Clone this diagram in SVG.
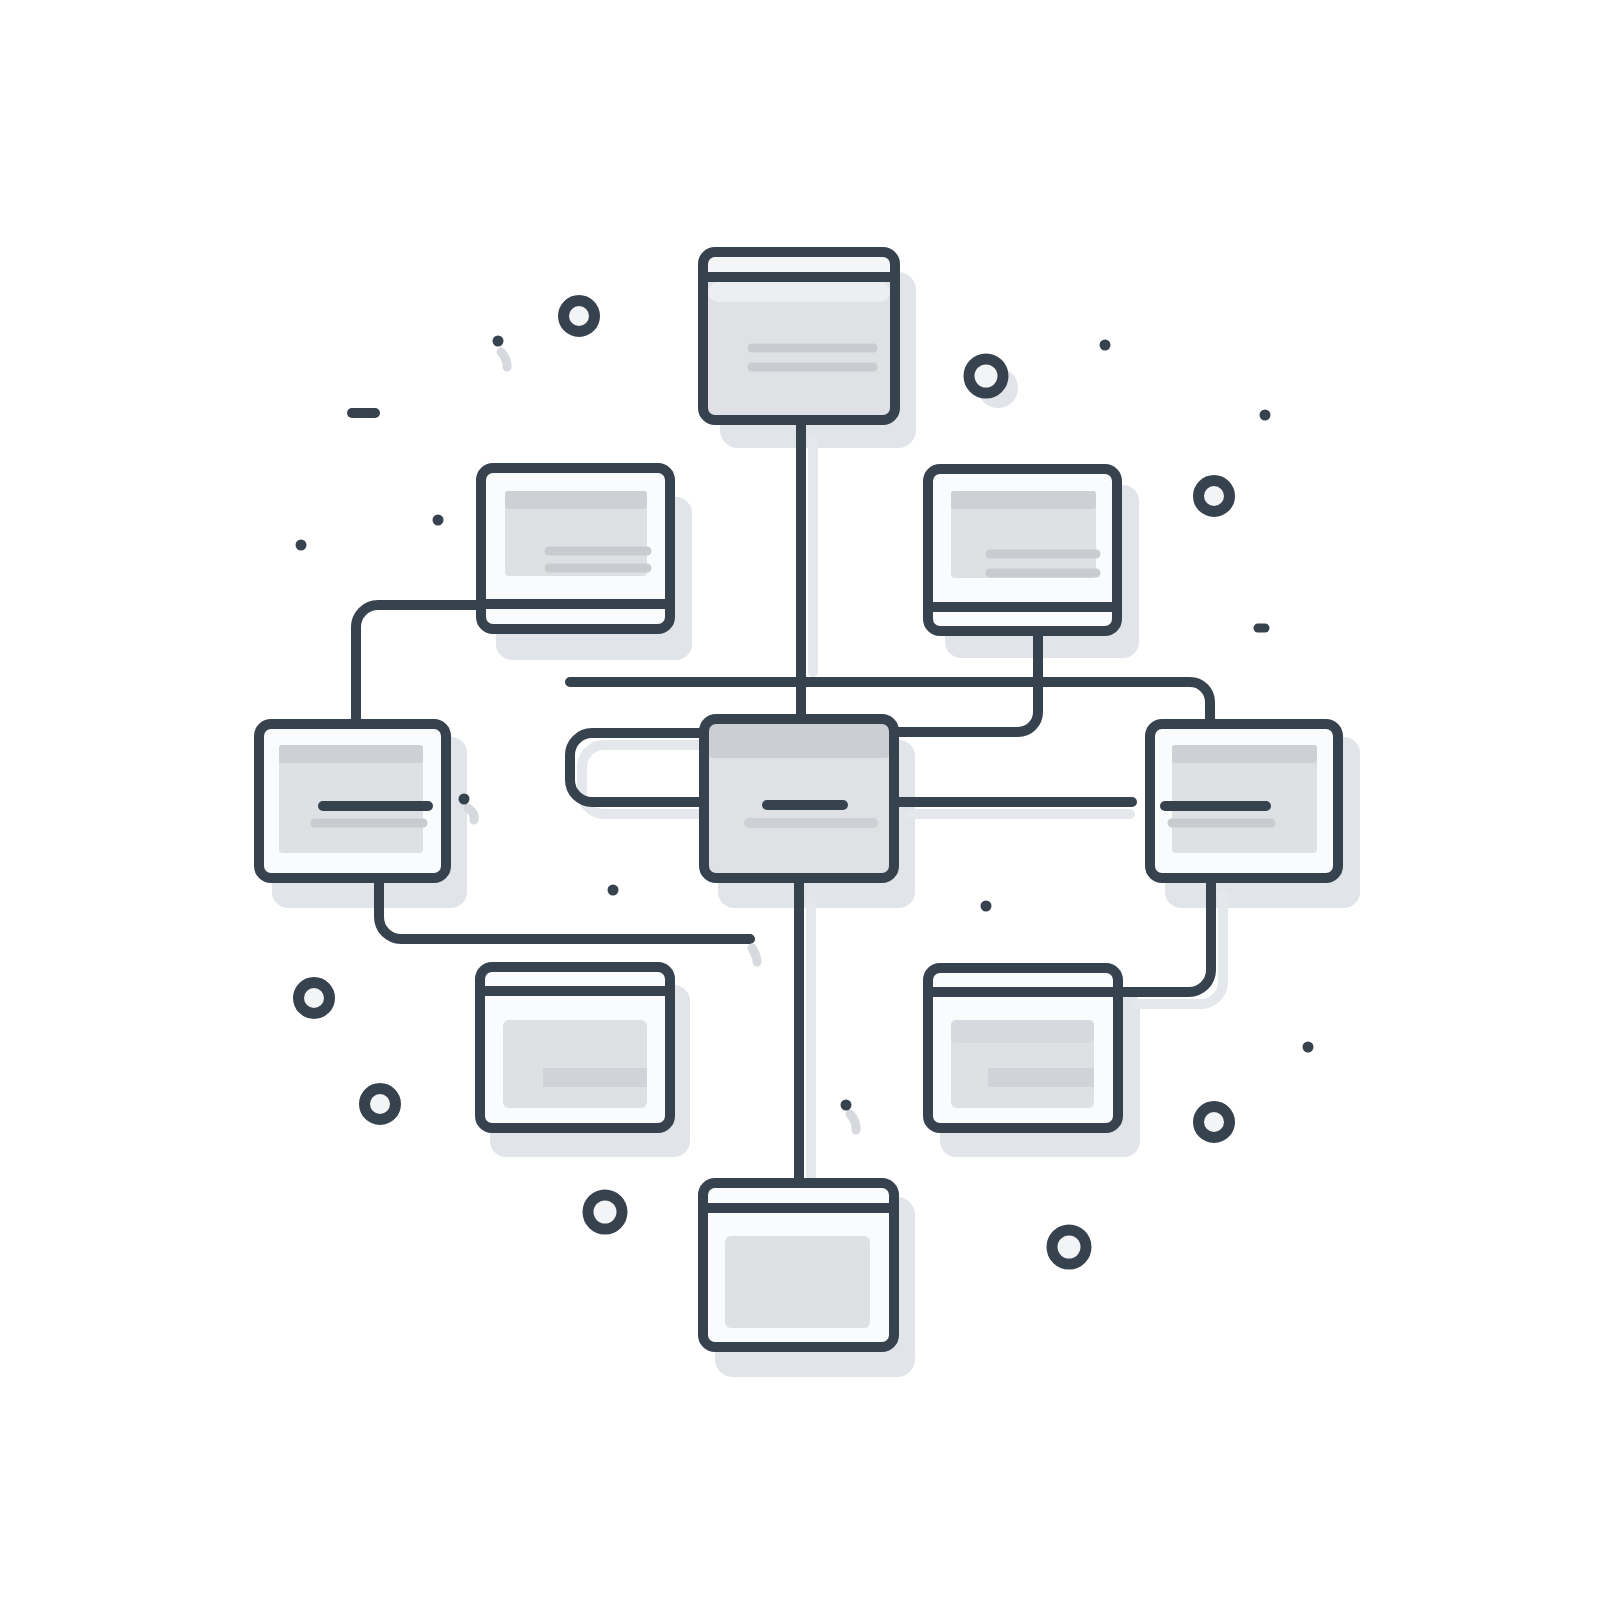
<svg xmlns="http://www.w3.org/2000/svg" width="1600" height="1600" viewBox="0 0 1600 1600">
<style>
.bg{fill:#ffffff}
.shadow{fill:#e1e4e9}
.cshadow{fill:none;stroke:#e4e7eb;stroke-width:10;stroke-linecap:round;stroke-linejoin:round}
.outline{fill:none;stroke:#36434e;stroke-width:10;stroke-linejoin:round}
.sep{stroke:#36434e;stroke-width:10}
.conn{fill:none;stroke:#36434e;stroke-width:10;stroke-linecap:round;stroke-linejoin:round}
.bodyw{fill:#fafbfc}
.bodyg{fill:#dfe1e4}
.head{fill:#f3f5f7}
.panel{fill:#dee0e3}
.band{fill:#cdd0d4}
.tline{stroke:#c8cbcf;stroke-width:9;stroke-linecap:round}
.dline{stroke:#36434e;stroke-width:10;stroke-linecap:round}
.bar{fill:#d0d4d8}
.ring{fill:#f2f4f6;stroke:#36434e;stroke-width:11}
.dot{fill:#36434e}
.smudge{fill:none;stroke:#d6d9dd;stroke-width:9;stroke-linecap:round}
</style>
<rect class="bg" x="0" y="0" width="1600" height="1600"/>

<g id="node-shadows">
  <rect class="shadow" x="720" y="272" width="196" height="176" rx="18"/>
  <rect class="shadow" x="496" y="497" width="196" height="163" rx="16"/>
  <rect class="shadow" x="945" y="485" width="194" height="173" rx="16"/>
  <rect class="shadow" x="718" y="740" width="197" height="168" rx="16"/>
  <rect class="shadow" x="272" y="737" width="195" height="171" rx="16"/>
  <rect class="shadow" x="1165" y="737" width="195" height="171" rx="16"/>
  <rect class="shadow" x="490" y="985" width="200" height="172" rx="16"/>
  <rect class="shadow" x="940" y="990" width="200" height="167" rx="16"/>
  <rect class="shadow" x="715" y="1197" width="200" height="180" rx="18"/>
</g>

<g id="connector-shadows">
  <path class="cshadow" d="M813,440 V672"/>
  <path class="cshadow" d="M709,745 H604 A22,22 0 0 0 582,767 V792 A22,22 0 0 0 604,814 H709"/>
  <path class="cshadow" d="M811,900 V1190"/>
  <path class="cshadow" d="M1223,895 V982 A22,22 0 0 1 1201,1004 H1135"/>
  <path class="cshadow" d="M910,814 H1130"/>
</g>

<g id="connectors">
  <path class="conn" d="M801,425 V714"/>
  <path class="conn" d="M570,682 H1190 A20,20 0 0 1 1210,702 V719"/>
  <path class="conn" d="M1038,636 V712 A20,20 0 0 1 1018,732 H898"/>
  <path class="conn" d="M699,733 H592 A22,22 0 0 0 570,755 V780 A22,22 0 0 0 592,802 H699"/>
  <path class="conn" d="M898,802 H1132"/>
  <path class="conn" d="M477,605 H378 A22,22 0 0 0 356,627 V719"/>
  <path class="conn" d="M379,883 V917 A22,22 0 0 0 401,939 H750"/>
  <path class="conn" d="M799,883 V1178"/>
  <path class="conn" d="M1211,883 V970 A22,22 0 0 1 1189,992 H1123"/>
</g>

<g id="node-top">
  <rect class="bodyg" x="703" y="252" width="192" height="168" rx="12"/>
  <rect class="head" x="706" y="255" width="186" height="22" rx="8"/>
  <rect fill="#eceef1" x="708" y="282" width="182" height="20" rx="10"/>
  <line class="tline" x1="752" y1="348" x2="873" y2="348"/>
  <line class="tline" x1="752" y1="367" x2="873" y2="367"/>
  <rect class="outline" x="703" y="252" width="192" height="168" rx="12"/>
  <line class="sep" x1="703" y1="277" x2="895" y2="277"/>
</g>

<g id="node-top-left">
  <rect class="bodyw" x="481" y="468" width="189" height="161" rx="12"/>
  <rect class="panel" x="505" y="491" width="142" height="85" rx="4"/>
  <rect class="band" x="505" y="491" width="142" height="18" rx="3"/>
  <line class="tline" x1="549" y1="551" x2="647" y2="551"/>
  <line class="tline" x1="549" y1="568" x2="647" y2="568"/>
  <rect class="outline" x="481" y="468" width="189" height="161" rx="12"/>
  <line class="sep" x1="481" y1="604" x2="670" y2="604"/>
</g>

<g id="node-top-right">
  <rect class="bodyw" x="928" y="469" width="189" height="162" rx="12"/>
  <rect class="panel" x="951" y="491" width="145" height="87" rx="4"/>
  <rect class="band" x="951" y="491" width="145" height="18" rx="3"/>
  <line class="tline" x1="990" y1="554" x2="1096" y2="554"/>
  <line class="tline" x1="990" y1="573" x2="1096" y2="573"/>
  <rect class="outline" x="928" y="469" width="189" height="162" rx="12"/>
  <line class="sep" x1="928" y1="607" x2="1117" y2="607"/>
</g>

<g id="node-middle">
  <rect class="bodyg" x="704" y="719" width="190" height="159" rx="12"/>
  <rect fill="#cbcfd3" x="709" y="724" width="180" height="34" rx="4"/>
  <line class="dline" x1="767" y1="805" x2="843" y2="805"/>
  <line class="tline" x1="749" y1="823" x2="873" y2="823" style="stroke:#cdd0d4;stroke-width:10"/>
  <rect class="outline" x="704" y="719" width="190" height="159" rx="12"/>
</g>

<g id="node-left">
  <rect class="bodyw" x="259" y="724" width="187" height="154" rx="12"/>
  <rect class="panel" x="279" y="745" width="144" height="108" rx="4"/>
  <rect class="band" x="279" y="745" width="144" height="18" rx="3"/>
  <line class="tline" x1="315" y1="823" x2="423" y2="823"/>
  <line class="dline" x1="323" y1="806" x2="428" y2="806"/>
  <rect class="outline" x="259" y="724" width="187" height="154" rx="12"/>
</g>

<g id="node-right">
  <rect class="bodyw" x="1150" y="724" width="188" height="154" rx="12"/>
  <rect class="panel" x="1172" y="745" width="145" height="108" rx="4"/>
  <rect class="band" x="1172" y="745" width="145" height="18" rx="3"/>
  <line class="tline" x1="1172" y1="823" x2="1271" y2="823"/>
  <line class="dline" x1="1165" y1="806" x2="1266" y2="806"/>
  <rect class="outline" x="1150" y="724" width="188" height="154" rx="12"/>
</g>

<g id="node-bottom-left">
  <rect class="bodyw" x="480" y="967" width="190" height="161" rx="12"/>
  <rect class="panel" x="503" y="1020" width="144" height="88" rx="6"/>
  <rect class="bar" x="543" y="1068" width="104" height="19"/>
  <rect class="outline" x="480" y="967" width="190" height="161" rx="12"/>
  <line class="sep" x1="480" y1="991" x2="670" y2="991"/>
</g>

<g id="node-bottom-right">
  <rect class="bodyw" x="928" y="968" width="190" height="160" rx="12"/>
  <rect class="panel" x="951" y="1020" width="143" height="88" rx="6"/>
  <rect fill="#d6d9dd" x="951" y="1020" width="143" height="23" rx="5"/>
  <rect class="bar" x="988" y="1068" width="106" height="19"/>
  <rect class="outline" x="928" y="968" width="190" height="160" rx="12"/>
  <line class="sep" x1="928" y1="992" x2="1118" y2="992"/>
</g>

<g id="node-bottom">
  <rect class="bodyw" x="703" y="1183" width="191" height="164" rx="12"/>
  <rect class="panel" x="725" y="1236" width="145" height="92" rx="6"/>
  <rect class="outline" x="703" y="1183" width="191" height="164" rx="12"/>
  <line class="sep" x1="703" y1="1208" x2="894" y2="1208"/>
</g>

<g id="decorations">
  <circle fill="#e1e4e9" cx="998" cy="388" r="20"/>
  <circle class="ring" cx="579" cy="316" r="15.5"/>
  <circle class="ring" cx="986" cy="376" r="17"/>
  <circle class="ring" cx="1214" cy="496" r="15.5"/>
  <circle class="ring" cx="314" cy="998" r="15.5"/>
  <circle class="ring" cx="380" cy="1104" r="15.5"/>
  <circle class="ring" cx="605" cy="1212" r="17"/>
  <circle class="ring" cx="1069" cy="1247" r="17"/>
  <circle class="ring" cx="1214" cy="1122" r="15.5"/>
  <path class="smudge" d="M501,352 Q508,360 507,367"/>
  <path class="smudge" d="M468,808 Q476,814 474,820"/>
  <path class="smudge" d="M850,1114 Q857,1122 856,1130"/>
  <path class="smudge" d="M752,948 Q757,956 757,962"/>
  <circle class="dot" cx="498" cy="341" r="5.5"/>
  <circle class="dot" cx="1105" cy="345" r="5.5"/>
  <circle class="dot" cx="1265" cy="415" r="5.5"/>
  <circle class="dot" cx="438" cy="520" r="5.5"/>
  <circle class="dot" cx="301" cy="545" r="5.5"/>
  <circle class="dot" cx="464" cy="799" r="5.5"/>
  <circle class="dot" cx="613" cy="890" r="5.5"/>
  <circle class="dot" cx="986" cy="906" r="5.5"/>
  <circle class="dot" cx="1308" cy="1047" r="5.5"/>
  <circle class="dot" cx="846" cy="1105" r="5.5"/>
  <line class="dline" x1="352" y1="413" x2="375" y2="413"/>
  <line class="dline" x1="1258" y1="628" x2="1265" y2="628" style="stroke-width:9"/>
</g>
</svg>
